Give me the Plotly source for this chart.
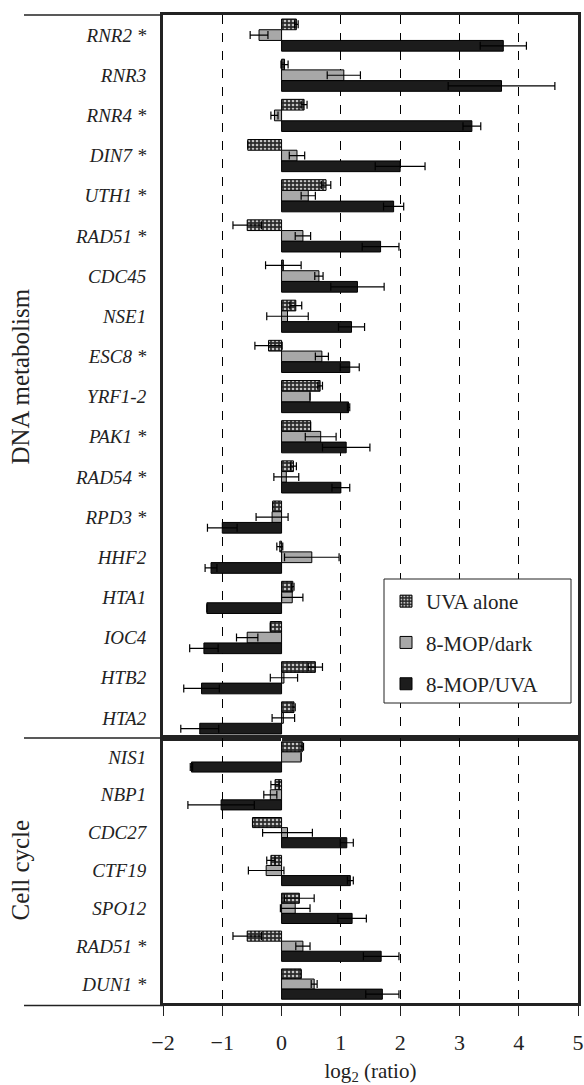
import plotly.graph_objects as go
from plotly.subplots import make_subplots

# ---------------- data ----------------
genes_dna = ["RNR2 *", "RNR3", "RNR4 *", "DIN7 *", "UTH1 *", "RAD51 *", "CDC45", "NSE1", "ESC8 *",
             "YRF1-2", "PAK1 *", "RAD54 *", "RPD3 *", "HHF2", "HTA1", "IOC4", "HTB2", "HTA2"]
genes_cc = ["NIS1", "NBP1", "CDC27", "CTF19", "SPO12", "RAD51 *", "DUN1 *"]

uva_dna = [0.25, 0.05, 0.38, -0.57, 0.75, -0.58, 0.03, 0.24, -0.22, 0.65, 0.49, 0.20, -0.15, -0.03, 0.19, -0.19, 0.57, 0.21]
uva_dna_err = [0.03, 0.06, 0.05, 0.0, 0.08, 0.24, 0.30, 0.10, 0.23, 0.04, 0.0, 0.05, 0.0, 0.05, 0.02, 0.0, 0.12, 0.02]
dark_dna = [-0.38, 1.05, -0.12, 0.26, 0.45, 0.36, 0.63, 0.10, 0.68, 0.48, 0.66, 0.08, -0.16, 0.51, 0.18, -0.58, 0.04, 0.03]
dark_dna_err = [0.15, 0.28, 0.06, 0.13, 0.12, 0.13, 0.07, 0.35, 0.11, 0.0, 0.26, 0.21, 0.27, 0.46, 0.18, 0.18, 0.23, 0.19]
mopuva_dna = [3.74, 3.71, 3.21, 2.00, 1.89, 1.67, 1.28, 1.18, 1.15, 1.13, 1.09, 1.00, -1.00, -1.19, -1.26, -1.31, -1.35, -1.38]
mopuva_dna_err = [0.39, 0.90, 0.15, 0.42, 0.17, 0.31, 0.45, 0.22, 0.16, 0.02, 0.40, 0.15, 0.25, 0.10, 0.0, 0.24, 0.30, 0.32]

uva_cc = [0.35, -0.11, -0.49, -0.18, 0.30, -0.58, 0.33]
uva_cc_err = [0.02, 0.07, 0.0, 0.07, 0.25, 0.24, 0.0]
dark_cc = [0.33, -0.19, 0.10, -0.26, 0.23, 0.36, 0.55]
dark_cc_err = [0.0, 0.11, 0.42, 0.30, 0.25, 0.12, 0.05]
mopuva_cc = [-1.52, -1.02, 1.10, 1.16, 1.19, 1.68, 1.70]
mopuva_cc_err = [0.02, 0.56, 0.11, 0.05, 0.24, 0.30, 0.28]

series_names = ["UVA alone", "8-MOP/dark", "8-MOP/UVA"]
x_ticks = [-2, -1, 0, 1, 2, 3, 4, 5]
group_labels = ["DNA metabolism", "Cell cycle"]

# ---------------- layout geometry ----------------
W, H = 584, 1085
ML, MR, MT, MB = 163, 6, 15, 82
PLOT_W = W - ML - MR
PLOT_H = H - MT - MB
TOP_PX = 723
BOT_PX = PLOT_H - TOP_PX
SERIF = "Liberation Serif, Times New Roman, serif"
INK = "#222222"


def px_x(px):
    return (px - ML) / PLOT_W


def px_y(py):
    return (H - MB - py) / PLOT_H


fig = make_subplots(rows=2, cols=1, shared_xaxes=True, vertical_spacing=0,
                    row_heights=[TOP_PX, BOT_PX])

styles = [
    dict(color="#3a3a3a",
         pattern=dict(shape=".", bgcolor="#2b2b2b", fgcolor="#c4c4c4", size=4, solidity=0.35),
         line=dict(color="black", width=1)),
    dict(color="#a8a8a8", line=dict(color="black", width=1)),
    dict(color="#1c1c1c", line=dict(color="black", width=1)),
]

panels = [
    (1, genes_dna, [(uva_dna, uva_dna_err), (dark_dna, dark_dna_err), (mopuva_dna, mopuva_dna_err)]),
    (2, genes_cc, [(uva_cc, uva_cc_err), (dark_cc, dark_cc_err), (mopuva_cc, mopuva_cc_err)]),
]

for row, genes, data in panels:
    pos = list(range(len(genes)))
    for i, (vals, errs) in enumerate(data):
        fig.add_trace(go.Bar(
            x=vals, y=pos, orientation="h", name=series_names[i],
            legendgroup=series_names[i], showlegend=(row == 1),
            marker=styles[i],
            error_x=dict(type="data", array=errs, visible=True, color="black",
                         thickness=1.2, width=4),
            hoverinfo="x+name",
        ), row=row, col=1)

axis_line = dict(showline=True, linewidth=3, linecolor=INK, mirror=True)

for r, genes in [(1, genes_dna), (2, genes_cc)]:
    n = len(genes)
    fig.update_yaxes(
        row=r, col=1, tickmode="array", tickvals=list(range(n)),
        ticktext=["<i>%s</i>" % g for g in genes],
        range=[n - 0.5, -0.5], ticks="", showgrid=False, zeroline=False,
        tickfont=dict(family=SERIF, size=19, color=INK),
        ticklabelstandoff=10, automargin=False, **axis_line)

fig.update_xaxes(range=[-2, 5], tickmode="array", tickvals=x_ticks,
                 showgrid=True, gridcolor="black", griddash="dash", gridwidth=1,
                 zeroline=True, zerolinecolor="white", zerolinewidth=1,
                 automargin=False, **axis_line)
fig.update_xaxes(row=1, col=1, showticklabels=False, ticks="")
fig.update_xaxes(row=2, col=1, ticks="outside", ticklen=10, tickwidth=1, tickcolor=INK,
                 tickfont=dict(family=SERIF, size=22, color=INK), ticklabelstandoff=8,
                 title=dict(text="log<sub>2</sub> (ratio)", standoff=18,
                            font=dict(family=SERIF, size=21, color=INK)))

# small tick marks along the x = 0 line at category boundaries
zero_pos = (0 - (-2)) / 7
fig.update_layout(
    yaxis3=dict(overlaying="y", anchor="free", position=zero_pos, side="left",
                range=[len(genes_dna) - 0.5, -0.5], tickmode="array",
                tickvals=[k + 0.5 for k in range(len(genes_dna) - 1)],
                ticks="outside", ticklen=5, tickcolor=INK, showticklabels=False,
                showline=False, showgrid=False, zeroline=False),
    yaxis4=dict(overlaying="y2", anchor="free", position=zero_pos, side="left",
                range=[len(genes_cc) - 0.5, -0.5], tickmode="array",
                tickvals=[k + 0.5 for k in range(len(genes_cc) - 1)],
                ticks="outside", ticklen=5, tickcolor=INK, showticklabels=False,
                showline=False, showgrid=False, zeroline=False),
)

split = BOT_PX / PLOT_H
shapes = []
for yv in [1.0, split, -2.5 / PLOT_H]:
    shapes.append(dict(type="line", xref="paper", yref="paper", x0=px_x(24), x1=0,
                       y0=yv, y1=yv, line=dict(color=INK, width=1.3)))
# legend frame
shapes.append(dict(type="rect", xref="paper", yref="paper", layer="above",
                   x0=px_x(384), x1=px_x(571), y0=px_y(703), y1=px_y(579),
                   fillcolor="white", line=dict(color=INK, width=1)))

annotations = [
    dict(text=group_labels[0], xref="paper", yref="paper", x=px_x(20),
         y=split + (1 - split) / 2, textangle=-90, showarrow=False,
         xanchor="center", yanchor="middle",
         font=dict(family=SERIF, size=25, color=INK)),
    dict(text=group_labels[1], xref="paper", yref="paper", x=px_x(20),
         y=split / 2, textangle=-90, showarrow=False,
         xanchor="center", yanchor="middle",
         font=dict(family=SERIF, size=25, color=INK)),
]

fig.update_layout(
    template="none", width=W, height=H,
    margin=dict(l=ML, r=MR, t=MT, b=MB),
    paper_bgcolor="white", plot_bgcolor="white",
    barmode="group", bargap=0.2, bargroupgap=0,
    shapes=shapes, annotations=annotations,
    legend=dict(x=px_x(386), y=px_y(581), xanchor="left", yanchor="top",
                bgcolor="rgba(0,0,0,0)", borderwidth=0,
                font=dict(family=SERIF, size=21, color=INK),
                tracegroupgap=11, itemwidth=30, traceorder="grouped"),
    font=dict(family=SERIF, color=INK),
)

fig.write_html("out.html")
